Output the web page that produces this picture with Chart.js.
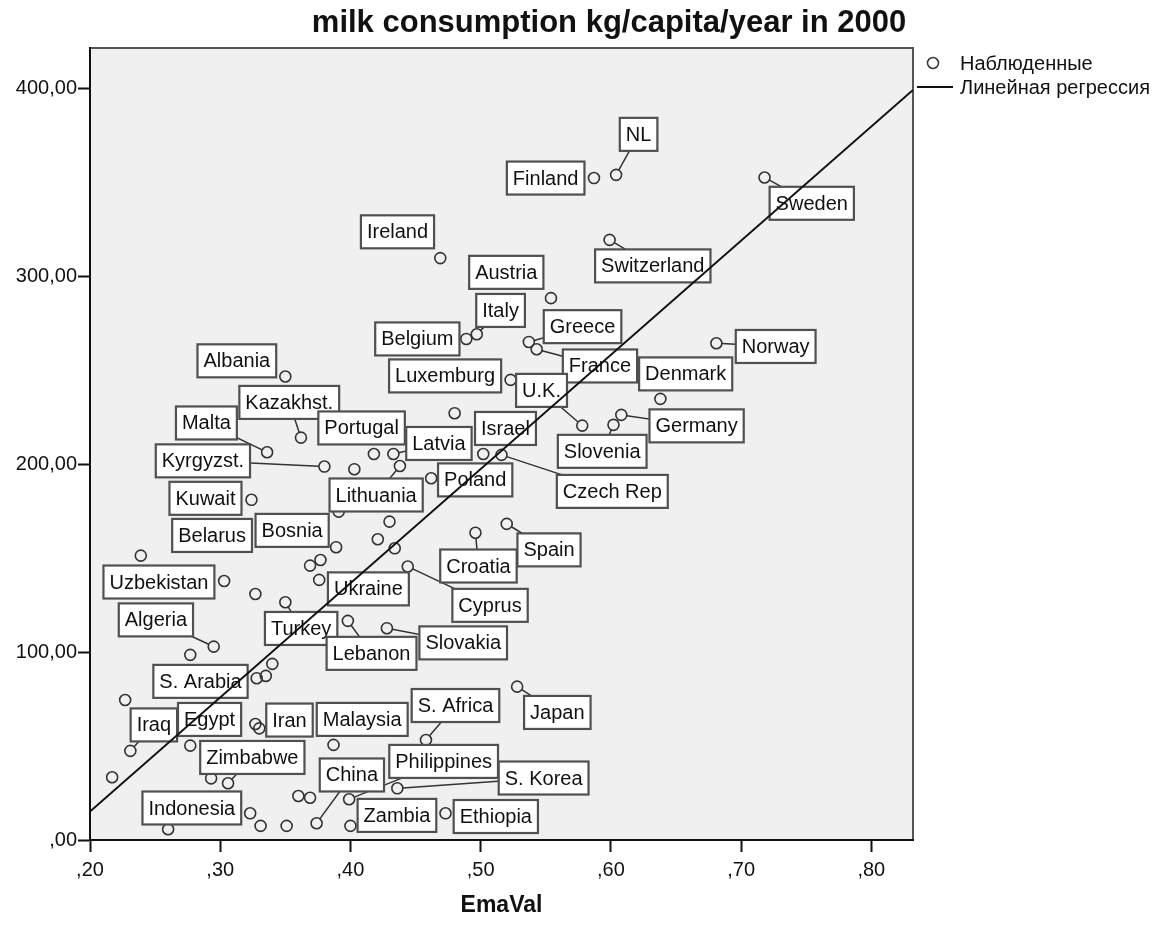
<!DOCTYPE html>
<html>
<head>
<meta charset="utf-8">
<title>milk consumption kg/capita/year in 2000</title>
<script src="https://cdn.jsdelivr.net/npm/chart.js@4.4.0/dist/chart.umd.min.js"></script>
<style>
  body { margin: 0; background: #fff; }
  #wrap { width: 1165px; height: 926px; }
</style>
</head>
<body>
<div id="wrap"><canvas id="milkChart" width="1165" height="926"></canvas></div>
<script>
'use strict';

// DATA
let countries = [
  'NL', 'Finland', 'Sweden', 'Ireland', 'Switzerland', 'Austria', 'Italy', 'Belgium',
  'Greece', 'France', 'Norway', 'Albania', 'Luxemburg', 'Denmark', 'U.K.', 'Kazakhst.',
  'Portugal', 'Israel', 'Germany', 'Malta', 'Latvia', 'Slovenia', 'Kyrgyzst.', 'Poland',
  'Czech Rep', 'Lithuania', 'Kuwait', 'Bosnia', 'Belarus', 'Spain', 'Croatia', 'Uzbekistan',
  'Ukraine', 'Cyprus', 'Algeria', 'Turkey', 'Slovakia', 'Lebanon', 'S. Arabia', 'Japan',
  'S. Africa', 'Iraq', 'Egypt', 'Iran', 'Malaysia', 'Zimbabwe', 'Philippines', 'China',
  'S. Korea', 'Indonesia', 'Zambia', 'Ethiopia'
];
let emaVal = [
  0.604, 0.587, 0.718, 0.469, 0.599, 0.554, 0.497, 0.489,
  0.537, 0.543, 0.681, 0.350, 0.523, 0.638, 0.578, 0.362,
  0.418, 0.502, 0.608, 0.336, 0.433, 0.602, 0.380, 0.462,
  0.516, 0.438, 0.324, 0.389, 0.239, 0.520, 0.496, 0.303,
  0.376, 0.444, 0.295, 0.350, 0.428, 0.398, 0.328, 0.528,
  0.458, 0.231, 0.277, 0.330, 0.387, 0.306, 0.399, 0.374,
  0.436, 0.260, 0.400, 0.473
];
let milkKg = [
  353.9, 352.2, 352.5, 309.6, 319.3, 288.3, 269.1, 266.6,
  265.0, 261.1, 264.3, 246.6, 244.8, 234.7, 220.5, 214.1,
  205.4, 205.4, 226.2, 206.3, 205.4, 220.9, 198.7, 192.5,
  204.9, 199.0, 181.0, 155.8, 151.3, 168.2, 163.5, 137.8,
  138.4, 145.5, 102.9, 126.5, 112.7, 116.6, 86.1, 81.6,
  53.2, 47.4, 50.2, 59.4, 50.6, 30.2, 21.7, 8.9,
  27.5, 5.7, 7.5, 14.2
];

// countries without a label box
let otherEmaVal = [
  0.403, 0.391, 0.369, 0.377, 0.480, 0.430, 0.421, 0.434, 0.327, 0.277,
  0.335, 0.340, 0.227, 0.327, 0.293, 0.217, 0.360, 0.369, 0.323, 0.331, 0.351
];
let otherMilkKg = [
  197.3, 174.7, 146.0, 149.0, 227.1, 169.4, 160.0, 155.2, 130.9, 98.5,
  87.3, 93.7, 74.5, 61.7, 32.8, 33.4, 23.4, 22.5, 14.2, 7.5, 7.5
];

// regression line end points
let regX = [0.2, 0.832];
let regY = [15.1, 399.1];

let xTicks = [0.2, 0.3, 0.4, 0.5, 0.6, 0.7, 0.8];
let xTickLabels = [',20', ',30', ',40', ',50', ',60', ',70', ',80'];
let yTicks = [0, 100, 200, 300, 400];
let yTickLabels = [',00', '100,00', '200,00', '300,00', '400,00'];

let chartTitle = 'milk consumption kg/capita/year in 2000';
let xTitle = 'EmaVal';
let legendNames = ['Наблюденные', 'Линейная регрессия'];

// LABEL LAYOUT: box centre offset from the point in px, and leader line on/off
let labelPlace = {
  'NL': [22.5, -40.5, 1], 'Finland': [-48.3, 0, 0], 'Sweden': [47.2, 25.8, 1],
  'Ireland': [-42.8, -26.3, 0], 'Switzerland': [43.2, 26, 1], 'Austria': [-44.7, -25.8, 0],
  'Italy': [23.8, -23.8, 1], 'Belgium': [-49, 0, 0], 'Greece': [53.7, -15.3, 1],
  'France': [63.3, 16.7, 1], 'Norway': [59.3, 3.2, 1], 'Albania': [-48.5, -15.7, 0],
  'Luxemburg': [-65.5, -4, 0], 'Denmark': [25.3, -25, 0], 'U.K.': [-40.7, -35.2, 1],
  'Kazakhst.': [-11.7, -35.2, 1], 'Portugal': [-12.3, -26, 0], 'Israel': [22.2, -25.5, 0],
  'Germany': [75.3, 11, 1], 'Malta': [-60.7, -29.3, 1], 'Latvia': [45.5, -10.5, 1],
  'Slovenia': [-11.3, 26.5, 1], 'Kyrgyzst.': [-121.5, -5.7, 1], 'Poland': [44, 1.7, 0],
  'Czech Rep': [110.8, 36.5, 1], 'Lithuania': [-23.8, 29, 1], 'Kuwait': [-46, -1.5, 0],
  'Bosnia': [-44, -16.8, 0], 'Belarus': [71.3, -20.2, 0], 'Spain': [42.3, 26, 1],
  'Croatia': [3, 33.3, 1], 'Uzbekistan': [-65.2, 1, 0], 'Ukraine': [49.2, 9, 0],
  'Cyprus': [82.3, 38.8, 1], 'Algeria': [-57.8, -26.7, 1], 'Turkey': [15.8, 26.2, 1],
  'Slovakia': [76.3, 14.7, 1], 'Lebanon': [23.7, 32.5, 1], 'S. Arabia': [-56.2, 3.2, 0],
  'Japan': [40.2, 25.8, 1], 'S. Africa': [29.5, -34.5, 1], 'Iraq': [23.5, -26, 1],
  'Egypt': [19.3, -26.2, 0], 'Iran': [30.2, -8.3, 1], 'Malaysia': [28.7, -25.5, 0],
  'Zimbabwe': [24.3, -25.8, 1], 'Philippines': [94.5, -37.8, 1], 'China': [35.3, -48.3, 1],
  'S. Korea': [146.3, -10.3, 1], 'Indonesia': [23.7, -21.3, 0], 'Zambia': [46.5, -10.5, 0],
  'Ethiopia': [50.3, 3.2, 0]
};

let fontFamily = '"Liberation Sans", Arial, sans-serif';
let pointR = 5.5;

// build point lists for the library
let observed = [];
for (let i = 0; i < countries.length; i++) {
  observed.push({ x: emaVal[i], y: milkKg[i] });
}
for (let i = 0; i < otherEmaVal.length; i++) {
  observed.push({ x: otherEmaVal[i], y: otherMilkKg[i] });
}
let regLine = [];
for (let i = 0; i < regX.length; i++) {
  regLine.push({ x: regX[i], y: regY[i] });
}

// PLUGINS
let plotFrame = {
  id: 'plotFrame',
  beforeDraw(chart) {
    let a = chart.chartArea;
    let ctx = chart.ctx;
    ctx.save();
    ctx.fillStyle = '#f0f0f0';
    ctx.fillRect(a.left, a.top, a.right - a.left, a.bottom - a.top);
    ctx.strokeStyle = '#555';
    ctx.lineWidth = 2;
    ctx.strokeRect(a.left, a.top, a.right - a.left, a.bottom - a.top);
    ctx.restore();
  }
};

let labelBoxes = {
  id: 'labelBoxes',
  afterDatasetDraw(chart, args) {
    if (args.index !== 1) return;
    let ctx = chart.ctx;
    let xs = chart.scales.x;
    let ys = chart.scales.y;
    ctx.save();
    ctx.font = '20px ' + fontFamily;

    // leader lines first
    for (let i = 0; i < countries.length; i++) {
      let p = labelPlace[countries[i]];
      if (!p[2]) continue;
      let px = xs.getPixelForValue(emaVal[i]);
      let py = ys.getPixelForValue(milkKg[i]);
      let cx = px + p[0];
      let cy = py + p[1];
      let d = Math.hypot(cx - px, cy - py);
      ctx.beginPath();
      ctx.moveTo(px + (cx - px) / d * pointR, py + (cy - py) / d * pointR);
      ctx.lineTo(cx, cy);
      ctx.strokeStyle = '#333';
      ctx.lineWidth = 1.5;
      ctx.stroke();
    }

    // boxes
    for (let i = 0; i < countries.length; i++) {
      let p = labelPlace[countries[i]];
      let px = xs.getPixelForValue(emaVal[i]);
      let py = ys.getPixelForValue(milkKg[i]);
      let cx = px + p[0];
      let cy = py + p[1];
      let w = ctx.measureText(countries[i]).width + 12;
      let h = 33;
      ctx.fillStyle = '#fff';
      ctx.fillRect(cx - w / 2, cy - h / 2, w, h);
      ctx.strokeStyle = '#505050';
      ctx.lineWidth = 2.2;
      ctx.strokeRect(cx - w / 2, cy - h / 2, w, h);
      ctx.fillStyle = '#111';
      ctx.textAlign = 'center';
      ctx.textBaseline = 'middle';
      ctx.fillText(countries[i], cx, cy + 1);
    }
    ctx.restore();
  }
};

let titleAndLegend = {
  id: 'titleAndLegend',
  afterDraw(chart) {
    let ctx = chart.ctx;
    ctx.save();
    ctx.fillStyle = '#111';
    ctx.textBaseline = 'middle';
    ctx.textAlign = 'center';
    ctx.font = 'bold 31px ' + fontFamily;
    ctx.fillText(chartTitle, 609, 23);

    // legend
    ctx.textAlign = 'left';
    ctx.font = '20px ' + fontFamily;
    ctx.beginPath();
    ctx.arc(933, 63, pointR, 0, Math.PI * 2);
    ctx.strokeStyle = '#333';
    ctx.lineWidth = 1.5;
    ctx.stroke();
    ctx.fillText(legendNames[0], 960, 64);
    ctx.beginPath();
    ctx.moveTo(917, 87);
    ctx.lineTo(953, 87);
    ctx.strokeStyle = '#111';
    ctx.lineWidth = 2;
    ctx.stroke();
    ctx.fillText(legendNames[1], 960, 88);
    ctx.restore();
  }
};

// CHART
let canvasElem = document.getElementById('milkChart').getContext('2d');

new Chart(canvasElem, {
  type: 'scatter',
  data: {
    datasets: [
      {
        type: 'line',
        label: legendNames[1],
        data: regLine,
        borderColor: '#111',
        borderWidth: 2,
        pointRadius: 0,
        fill: false
      },
      {
        label: legendNames[0],
        data: observed,
        pointRadius: pointR,
        pointBorderWidth: 1.6,
        borderColor: '#333',
        backgroundColor: 'rgba(0,0,0,0)',
        pointBackgroundColor: 'rgba(0,0,0,0)'
      }
    ]
  },
  options: {
    responsive: false,
    animation: false,
    layout: { padding: { left: 0, top: 48, right: 252, bottom: 0 } },
    plugins: {
      legend: { display: false },
      tooltip: { enabled: false },
      title: { display: false }
    },
    scales: {
      x: {
        type: 'linear',
        min: 0.2,
        max: 0.832,
        afterFit(scale) { scale.height = 86; },
        afterBuildTicks(scale) { scale.ticks = xTicks.map(v => ({ value: v })); },
        grid: { drawOnChartArea: false, tickLength: 12, tickWidth: 2, tickColor: '#111' },
        border: { display: true, color: '#111', width: 2 },
        ticks: {
          color: '#111',
          padding: 6,
          maxRotation: 0,
          font: { family: fontFamily, size: 20 },
          callback: (v, i) => xTickLabels[i]
        },
        title: {
          display: true,
          text: xTitle,
          color: '#111',
          font: { family: fontFamily, size: 23, weight: 'bold' },
          padding: { top: 0, bottom: 7 }
        }
      },
      y: {
        type: 'linear',
        min: 0,
        max: 421.4,
        afterFit(scale) { scale.width = 90; },
        afterBuildTicks(scale) { scale.ticks = yTicks.map(v => ({ value: v })); },
        grid: { drawOnChartArea: false, tickLength: 12, tickWidth: 2, tickColor: '#111' },
        border: { display: true, color: '#111', width: 2 },
        ticks: {
          color: '#111',
          padding: 1,
          font: { family: fontFamily, size: 20 },
          callback: (v, i) => yTickLabels[i]
        }
      }
    }
  },
  plugins: [plotFrame, labelBoxes, titleAndLegend]
});
</script>
</body>
</html>
